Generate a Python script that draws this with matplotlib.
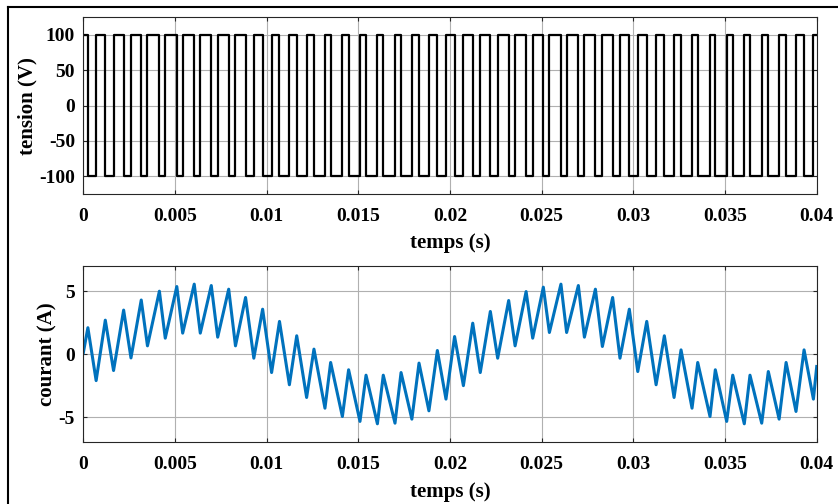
import numpy as np
import matplotlib
matplotlib.use("Agg")
import matplotlib.pyplot as plt
from matplotlib.lines import Line2D

# instants de commutation de l'onduleur (s) : alternance +100 -> -100 puis -100 -> +100
t_sw = [0.00025, 0.0007, 0.0012, 0.00165, 0.0022, 0.0026, 0.00316, 0.0035,
        0.00415, 0.00447, 0.0051, 0.00542, 0.00605, 0.00638, 0.00698, 0.00733,
        0.00793, 0.0083, 0.00885, 0.0093, 0.00978, 0.01027, 0.0107, 0.01124,
        0.01164, 0.01218, 0.01258, 0.01318, 0.01349, 0.01413, 0.01447, 0.01509,
        0.01542, 0.01604, 0.01636, 0.017, 0.01733, 0.01792, 0.01831, 0.01885,
        0.01931, 0.01978, 0.02025, 0.02073, 0.02124, 0.02165, 0.0222, 0.0226,
        0.0232, 0.02355, 0.02415, 0.02451, 0.02509, 0.02542, 0.02605, 0.02636,
        0.027, 0.02733, 0.02793, 0.02831, 0.02887, 0.02927, 0.02978, 0.03024,
        0.03073, 0.03124, 0.03169, 0.03222, 0.0326, 0.0332, 0.03351, 0.03418,
        0.03447, 0.03509, 0.03542, 0.03605, 0.03636, 0.037, 0.03736, 0.03795,
        0.03833, 0.03887, 0.03931, 0.03982]

# courant de charge aux instants de commutation (A)
i_sw = [2.1, -2.1, 2.7, -1.3, 3.5, -0.3, 4.3, 0.66,
        5.0, 1.27, 5.37, 1.67, 5.56, 1.67, 5.45, 1.35,
        5.16, 0.66, 4.5, -0.32, 3.57, -1.46, 2.6, -2.43,
        1.46, -3.44, 0.4, -4.29, -0.66, -4.95, -1.24, -5.34,
        -1.67, -5.53, -1.67, -5.48, -1.46, -5.16, -0.71, -4.5,
        0.29, -3.57, 1.4, -2.5, 2.46, -1.46, 3.39, -0.32,
        4.26, 0.66, 4.97, 1.27, 5.32, 1.72, 5.56, 1.72,
        5.45, 1.35, 5.16, 0.61, 4.5, -0.32, 3.57, -1.38,
        2.6, -2.43, 1.46, -3.44, 0.34, -4.29, -0.66, -4.95,
        -1.24, -5.34, -1.67, -5.53, -1.67, -5.48, -1.38, -5.16,
        -0.66, -4.55, 0.34, -3.57]

t_start, i_start = 0.0, 0.1
t_end, i_end = 0.04, -0.98
v_dc = 100

xticks = [0, 0.005, 0.01, 0.015, 0.02, 0.025, 0.03, 0.035, 0.04]
xtick_labels = ['0', '0.005', '0.01', '0.015', '0.02', '0.025', '0.03', '0.035', '0.04']
v_ticks = [-100, -50, 0, 50, 100]
i_ticks = [-5, 0, 5]

# tension : +Vdc au départ, puis change de signe à chaque commutation
t_v = [t_start] + t_sw + [t_end]
v = [v_dc * (1 if k % 2 == 0 else -1) for k in range(len(t_sw) + 1)]
v = v + [v[-1]]

t_i = [t_start] + t_sw + [t_end]
i = [i_start] + i_sw + [i_end]

plt.rcParams['font.family'] = ['Liberation Serif']
plt.rcParams['font.weight'] = 'bold'
plt.rcParams['axes.unicode_minus'] = False

fig = plt.figure(figsize=(8.38, 5.04), dpi=100)
ax1 = fig.add_axes([0.0994, 0.6151, 0.8752, 0.3506])
ax2 = fig.add_axes([0.0994, 0.1224, 0.8752, 0.3498])

ax1.step(t_v, v, where='post', color='black', lw=1.6)
ax2.plot(t_i, i, color='#0072BD', lw=2.2)


def style(ax, yticks, ylim, ylabel):
    ax.set_xlim(0, 0.04)
    ax.set_ylim(*ylim)
    ax.set_xticks(xticks)
    ax.set_xticklabels(xtick_labels)
    ax.set_yticks(yticks)
    ax.grid(True, color='#b0b0b0', lw=0.8)
    ax.set_axisbelow(True)
    ax.tick_params(direction='in', top=True, right=True, length=3,
                   labelsize=14, color='#262626')
    ax.tick_params(axis='x', pad=10)
    ax.tick_params(axis='y', pad=6)
    for lab in ax.get_xticklabels() + ax.get_yticklabels():
        lab.set_fontweight('bold')
    for s in ax.spines.values():
        s.set_color('#262626')
        s.set_linewidth(0.8)
    ax.set_xlabel('temps (s)', fontsize=15, fontweight='bold', labelpad=6)
    ax.set_ylabel(ylabel, fontsize=15, fontweight='bold', labelpad=1)


style(ax1, v_ticks, (-125, 125), 'tension (V)')
style(ax2, i_ticks, (-7, 7), 'courant (A)')

# cadre autour de la figure (bords gauche et haut)
fig.add_artist(Line2D([8 / 838, 8 / 838], [0, 1 - 7 / 504], color='black', lw=1.5,
                      transform=fig.transFigure))
fig.add_artist(Line2D([8 / 838, 1], [1 - 7 / 504, 1 - 7 / 504], color='black', lw=1.5,
                      transform=fig.transFigure))

fig.savefig('out.png', dpi=100)
